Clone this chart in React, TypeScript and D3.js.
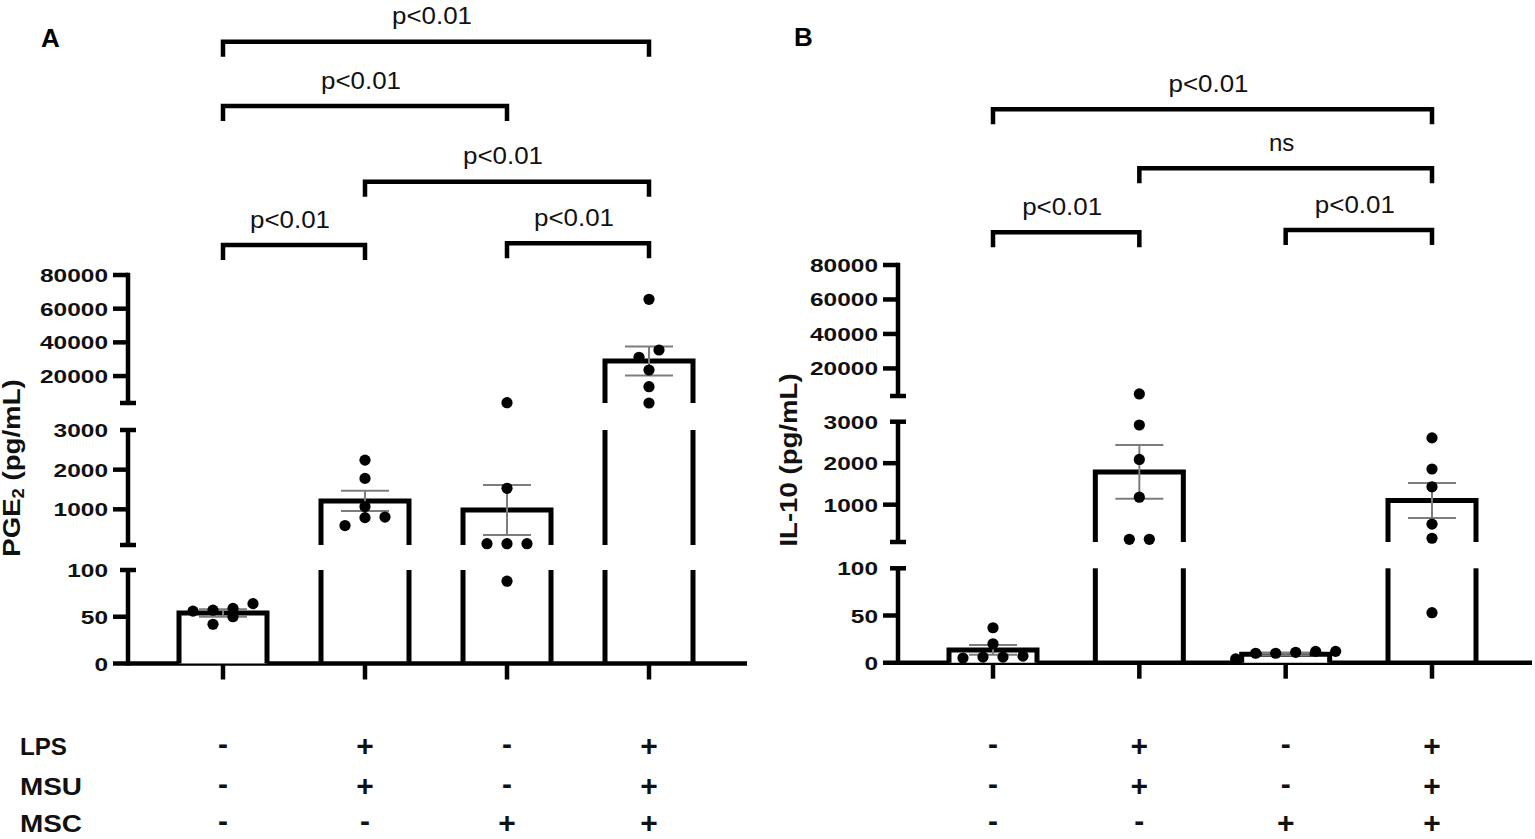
import { useEffect, useRef } from "react";
import * as d3 from "d3";

// ---------------------------------------------------------------------------
// Data
// ---------------------------------------------------------------------------

const GROUPS = ["ctrl", "LPS+MSU", "MSC", "LPS+MSU+MSC"];
const TREATMENTS = ["LPS", "MSU", "MSC"];
const LPS = ["-", "+", "-", "+"];
const MSU = ["-", "+", "-", "+"];
const MSC = ["-", "-", "+", "+"];

// broken y axis, segments from bottom to top
const SEG_DOMAINS: [number, number][] = [
  [0, 100],
  [100, 3000],
  [4000, 80000],
];
const SEG_TICKS = [
  [0, 50, 100],
  [1000, 2000, 3000],
  [20000, 40000, 60000, 80000],
];

const PGE2_POINTS = [
  [56, 59, 64, 50, 57, 42],
  [2240, 1780, 1070, 790, 590, 805],
  [4180, 1530, 133, 133, 133, 88],
  [65580, 35470, 31140, 23600, 13680, 4000],
];
const PGE2_MEAN = [54, 1210, 980, 28900];
const PGE2_SEM = [4, 255, 630, 8600];

const IL10_POINTS = [
  [20, 37, 5, 6, 6, 7],
  [5200, 2920, 2090, 1180, 165, 165],
  [10, 12, 10, 12, 11, 4],
  [2610, 1860, 1430, 530, 190, 53],
];
const IL10_MEAN = [13.5, 1790, 9, 1100];
const IL10_SEM = [5.2, 650, 1.2, 420];

type Sig = { from: number; to: number; label: string };

const SIG_A: Sig[] = [
  { from: 0, to: 3, label: "p<0.01" },
  { from: 0, to: 2, label: "p<0.01" },
  { from: 1, to: 3, label: "p<0.01" },
  { from: 0, to: 1, label: "p<0.01" },
  { from: 2, to: 3, label: "p<0.01" },
];
const SIG_B: Sig[] = [
  { from: 0, to: 3, label: "p<0.01" },
  { from: 1, to: 3, label: "ns" },
  { from: 0, to: 1, label: "p<0.01" },
  { from: 2, to: 3, label: "p<0.01" },
];

// ---------------------------------------------------------------------------
// Layout
// ---------------------------------------------------------------------------

const W = 1535;
const H = 839;
const FONT = "'Liberation Sans', Arial, Helvetica, sans-serif";
const ERR_COLOR = "#7d7d7d";

type Panel = {
  letter: string;
  letterX: number;
  letterY: number;
  title: string;
  sub?: string;
  titleRest?: string;
  titleX: number;
  titleY: number;
  axisX: number;
  axisEnd: number;
  xFirst: number;
  xLast: number;
  segRanges: [number, number][];
  bracketY: number[];
  sigs: Sig[];
  points: number[][];
  mean: number[];
  sem: number[];
};

const PANELS: Panel[] = [
  {
    letter: "A",
    letterX: 41,
    letterY: 47,
    title: "PGE",
    sub: "2",
    titleRest: " (pg/mL)",
    titleX: 20,
    titleY: 468,
    axisX: 128,
    axisEnd: 747,
    xFirst: 223,
    xLast: 649,
    segRanges: [
      [663.5, 570],
      [545, 430],
      [403, 275],
    ],
    bracketY: [41.7, 106, 181.7, 245, 243.3],
    sigs: SIG_A,
    points: PGE2_POINTS,
    mean: PGE2_MEAN,
    sem: PGE2_SEM,
  },
  {
    letter: "B",
    letterX: 794,
    letterY: 46,
    title: "IL-10 (pg/mL)",
    titleX: 797,
    titleY: 460,
    axisX: 898,
    axisEnd: 1532,
    xFirst: 993,
    xLast: 1432,
    segRanges: [
      [662.7, 568.3],
      [542, 421.7],
      [396, 265],
    ],
    bracketY: [109.3, 168.3, 232.3, 230],
    sigs: SIG_B,
    points: IL10_POINTS,
    mean: IL10_MEAN,
    sem: IL10_SEM,
  },
];

const ROW_CENTERS = [746, 786, 823];
const SIGN_SIZE = 30;

// ---------------------------------------------------------------------------
// Helpers
// ---------------------------------------------------------------------------

function brokenScale(ranges: [number, number][]) {
  const segs = SEG_DOMAINS.map((d, i) =>
    d3.scaleLinear().domain(d).range(ranges[i])
  );
  const segOf = (v: number) =>
    v <= SEG_DOMAINS[0][1] ? 0 : v <= SEG_DOMAINS[1][1] ? 1 : 2;
  const y = (v: number) => segs[segOf(v)](v);
  return { segs, segOf, y };
}

// GraphPad-like scatter: points closer than one dot in y share a row,
// and each row is spread symmetrically around the column centre
function scatterOffsets(ys: number[], spacing: number, rowH: number) {
  const order = d3.range(ys.length).sort((a, b) => ys[b] - ys[a]);
  const offsets = new Array(ys.length).fill(0);
  let row: number[] = [];
  const flush = () => {
    row.forEach((idx, k) => {
      offsets[idx] = (k - (row.length - 1) / 2) * spacing;
    });
    row = [];
  };
  order.forEach((idx) => {
    if (row.length && Math.abs(ys[row[0]] - ys[idx]) >= rowH) flush();
    row.push(idx);
  });
  flush();
  return offsets;
}

// ---------------------------------------------------------------------------
// Component
// ---------------------------------------------------------------------------

export default function App() {
  const svgRef = useRef<SVGSVGElement>(null);

  useEffect(() => {
    const svg = d3.select(svgRef.current);
    svg.selectAll("*").remove();
    svg.attr("width", W).attr("height", H);

    svg
      .append("rect")
      .attr("width", W)
      .attr("height", H)
      .attr("fill", "#fff");

    PANELS.forEach((p) => {
      const g = svg.append("g");
      const { segs, segOf, y } = brokenScale(p.segRanges);
      const x = d3.scalePoint<string>().domain(GROUPS).range([p.xFirst, p.xLast]);
      const base = p.segRanges[0][0];
      const barHW = 44;

      // ---- panel letter ----
      g.append("text")
        .attr("x", p.letterX)
        .attr("y", p.letterY)
        .attr("font-family", FONT)
        .attr("font-weight", "bold")
        .attr("font-size", 26)
        .text(p.letter);

      // ---- y title ----
      const title = g
        .append("text")
        .attr(
          "transform",
          `translate(${p.titleX},${p.titleY}) rotate(-90) scale(1.15,1)`
        )
        .attr("text-anchor", "middle")
        .attr("font-family", FONT)
        .attr("font-weight", "bold")
        .attr("font-size", 24)
        .attr("fill", "#111");
      title.append("tspan").text(p.title);
      if (p.sub) {
        title.append("tspan").attr("font-size", 16).attr("dy", 4).text(p.sub);
        title.append("tspan").attr("dy", -4).text(p.titleRest ?? "");
      }

      // ---- y axis (broken) ----
      segs.forEach((s, k) => {
        const [r0, r1] = s.range();
        g.append("line")
          .attr("x1", p.axisX)
          .attr("x2", p.axisX)
          .attr("y1", k === 0 ? r0 + 2 : r0)
          .attr("y2", k === 2 ? r1 - 2.25 : r1)
          .attr("stroke", "#000")
          .attr("stroke-width", 4.5);

        // break caps at segment ends
        const caps: number[] = [];
        if (k > 0) caps.push(r0);
        if (k < 2) caps.push(r1);
        caps.forEach((cy) => {
          g.append("line")
            .attr("x1", p.axisX - 8)
            .attr("x2", p.axisX + 8)
            .attr("y1", cy)
            .attr("y2", cy)
            .attr("stroke", "#000")
            .attr("stroke-width", 4.5);
        });

        SEG_TICKS[k].forEach((t) => {
          const ty = s(t);
          const isCap = k < 2 && t === SEG_DOMAINS[k][1];
          if (t !== 0 && !isCap) {
            g.append("line")
              .attr("x1", p.axisX - 15)
              .attr("x2", p.axisX)
              .attr("y1", ty)
              .attr("y2", ty)
              .attr("stroke", "#000")
              .attr("stroke-width", 4.5);
          }
          const label = String(t);
          g.append("text")
            .attr("x", p.axisX - 20)
            .attr("y", ty + 7)
            .attr("text-anchor", "end")
            .attr("font-family", FONT)
            .attr("font-weight", "bold")
            .attr("font-size", 19)
            .attr("textLength", label.length * 13.6)
            .attr("lengthAdjust", "spacingAndGlyphs")
            .attr("fill", "#111")
            .text(label);
        });
      });

      // ---- x axis ----
      g.append("line")
        .attr("x1", p.axisX - 15)
        .attr("x2", p.axisEnd)
        .attr("y1", base)
        .attr("y2", base)
        .attr("stroke", "#000")
        .attr("stroke-width", 4.5);

      GROUPS.forEach((gr) => {
        g.append("line")
          .attr("x1", x(gr)!)
          .attr("x2", x(gr)!)
          .attr("y1", base)
          .attr("y2", base + 16)
          .attr("stroke", "#000")
          .attr("stroke-width", 4.5);
      });

      // ---- bars ----
      GROUPS.forEach((gr, i) => {
        const cx = x(gr)!;
        const m = p.mean[i];
        const top = segOf(m);
        for (let k = 0; k < top; k++) {
          const [r0, r1] = segs[k].range();
          [-barHW, barHW].forEach((dx) => {
            g.append("line")
              .attr("x1", cx + dx)
              .attr("x2", cx + dx)
              .attr("y1", r0)
              .attr("y2", r1)
              .attr("stroke", "#000")
              .attr("stroke-width", 5);
          });
        }
        const bottom = segs[top].range()[0];
        const ym = y(m);
        g.append("path")
          .attr(
            "d",
            `M${cx - barHW},${bottom}V${ym}H${cx + barHW}V${bottom}`
          )
          .attr("fill", "#fff")
          .attr("stroke", "#000")
          .attr("stroke-width", 5)
          .attr("stroke-linejoin", "miter");
      });

      // ---- error bars (mean ± SEM) ----
      GROUPS.forEach((gr, i) => {
        const cx = x(gr)!;
        const yHi = y(p.mean[i] + p.sem[i]);
        const yLo = y(p.mean[i] - p.sem[i]);
        const eg = g
          .append("g")
          .attr("stroke", ERR_COLOR)
          .attr("stroke-width", 2);
        eg.append("line")
          .attr("x1", cx)
          .attr("x2", cx)
          .attr("y1", yHi)
          .attr("y2", yLo);
        [yHi, yLo].forEach((cy) => {
          eg.append("line")
            .attr("x1", cx - 24)
            .attr("x2", cx + 24)
            .attr("y1", cy)
            .attr("y2", cy);
        });
      });

      // ---- individual points ----
      GROUPS.forEach((gr, i) => {
        const cx = x(gr)!;
        const ys = p.points[i].map(y);
        const offs = scatterOffsets(ys, 20, 11);
        ys.forEach((py, j) => {
          g.append("circle")
            .attr("cx", cx + offs[j])
            .attr("cy", py)
            .attr("r", 5.6)
            .attr("fill", "#000");
        });
      });

      // ---- significance brackets ----
      p.sigs.forEach((s, i) => {
        const x1 = x(GROUPS[s.from])!;
        const x2 = x(GROUPS[s.to])!;
        const by = p.bracketY[i];
        g.append("path")
          .attr("d", `M${x1},${by + 15}V${by}H${x2}V${by + 15}`)
          .attr("fill", "none")
          .attr("stroke", "#000")
          .attr("stroke-width", 4.5)
          .attr("stroke-linejoin", "miter");
        const t = g
          .append("text")
          .attr("x", (x1 + x2) / 2 - 4)
          .attr("y", by - 17.5)
          .attr("text-anchor", "middle")
          .attr("font-family", FONT)
          .attr("font-size", 24)
          .attr("fill", "#111")
          .text(s.label);
        if (s.label.startsWith("p")) {
          t.attr("textLength", 80).attr("lengthAdjust", "spacingAndGlyphs");
        }
      });

      // ---- treatment table ----
      [LPS, MSU, MSC].forEach((row, r) => {
        row.forEach((sign, i) => {
          g.append("text")
            .attr("x", x(GROUPS[i])!)
            .attr(
              "y",
              ROW_CENTERS[r] + SIGN_SIZE * (sign === "+" ? 0.34 : 0.27)
            )
            .attr("text-anchor", "middle")
            .attr("font-family", FONT)
            .attr("font-weight", "bold")
            .attr("font-size", SIGN_SIZE)
            .attr("fill", "#111")
            .text(sign);
        });
      });
    });

    // row labels (left of panel A only)
    const labelLen = [47, 62, 62];
    TREATMENTS.forEach((t, r) => {
      svg
        .append("text")
        .attr("x", 20)
        .attr("y", ROW_CENTERS[r] + 8.5)
        .attr("font-family", FONT)
        .attr("font-weight", "bold")
        .attr("font-size", 24)
        .attr("textLength", labelLen[r])
        .attr("lengthAdjust", "spacingAndGlyphs")
        .attr("fill", "#111")
        .text(t);
    });
  }, []);

  return (
    <div
      style={{
        position: "absolute",
        left: 0,
        top: 0,
        width: W,
        height: H,
        overflow: "hidden",
      }}
    >
      <svg ref={svgRef} width={W} height={H} style={{ display: "block" }} />
    </div>
  );
}
